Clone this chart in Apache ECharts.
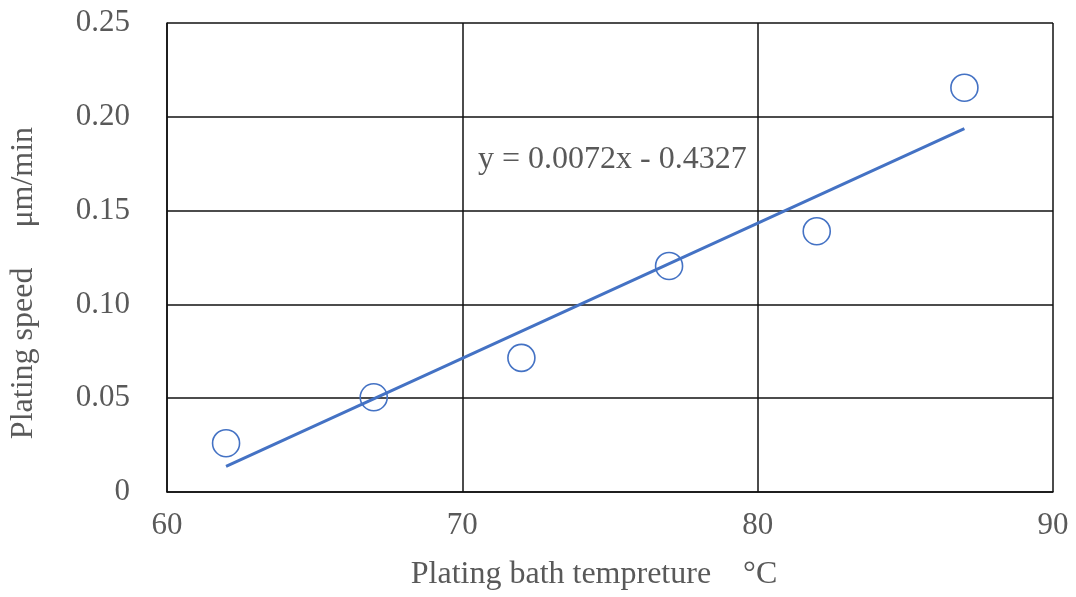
<!DOCTYPE html>
<html>
<head>
<meta charset="utf-8">
<script src="https://cdn.jsdelivr.net/npm/echarts@6/dist/echarts.min.js"></script>
<style>
  html, body { margin: 0; padding: 0; background: #fff; }
  #chart { width: 1076px; height: 597px; }
</style>
</head>
<body>
<div id="chart"></div>
<script>
// measured points (bath temperature, plating speed)
var temps = [62, 67, 72, 77, 82, 87];
var speeds = [0.026, 0.0505, 0.0715, 0.1205, 0.139, 0.2155];
// linear trendline end points
var trendLine = [[62, 0.0137], [87, 0.1937]];
var trendLabel = "y = 0.0072x - 0.4327";
var xTitle = "Plating bath tempreture\u3000\u00b0C";
var yTitle = "Plating speed\u3000 \u03bcm/min";

var font = "'Liberation Serif', 'DejaVu Serif', serif";
var textColor = "#595959";
var blue = "#4472C4";

var chart = echarts.init(document.getElementById("chart"));
chart.setOption({
  backgroundColor: "#ffffff",
  animation: false,
  grid: {
    left: 167,
    right: 23,
    top: 23,
    bottom: 105
  },
  xAxis: {
    type: "value",
    min: 60,
    max: 90,
    interval: 10,
    axisLine: { show: true, lineStyle: { color: "#111", width: 1.5 } },
    axisTick: { show: false },
    axisLabel: { margin: 18, fontFamily: font, fontSize: 31, color: textColor },
    splitLine: { show: true, lineStyle: { color: "#111", width: 1.5 } }
  },
  yAxis: {
    type: "value",
    min: 0,
    max: 0.25,
    interval: 0.05,
    axisLine: { show: true, lineStyle: { color: "#111", width: 1.5 } },
    axisTick: { show: false },
    axisLabel: {
      margin: 37,
      fontFamily: font,
      fontSize: 31,
      color: textColor,
      formatter: function(v) {
        return v === 0 ? "0" : v.toFixed(2);
      }
    },
    splitLine: { show: true, lineStyle: { color: "#111", width: 1.5 } }
  },
  series: [
    {
      type: "scatter",
      data: temps.map(function(t, i) { return [t, speeds[i]]; }),
      symbol: "circle",
      symbolSize: 27,
      itemStyle: { color: "rgba(255,255,255,0)", borderColor: blue, borderWidth: 1.6, opacity: 1 },
      z: 2
    },
    {
      type: "line",
      data: trendLine,
      symbol: "none",
      lineStyle: { color: blue, width: 3 },
      z: 3
    }
  ],
  graphic: [
    {
      type: "text",
      x: 478,
      y: 160,
      style: {
        text: trendLabel,
        font: "32px " + font,
        fill: textColor,
        verticalAlign: "middle"
      }
    },
    {
      type: "text",
      x: 594,
      y: 575,
      style: {
        text: xTitle,
        font: "32px " + font,
        fill: textColor,
        align: "center",
        verticalAlign: "middle"
      }
    },
    {
      type: "text",
      x: 24,
      y: 283,
      rotation: Math.PI / 2,
      style: {
        text: yTitle,
        font: "32px " + font,
        fill: textColor,
        align: "center",
        verticalAlign: "middle"
      }
    }
  ]
});
</script>
</body>
</html>
